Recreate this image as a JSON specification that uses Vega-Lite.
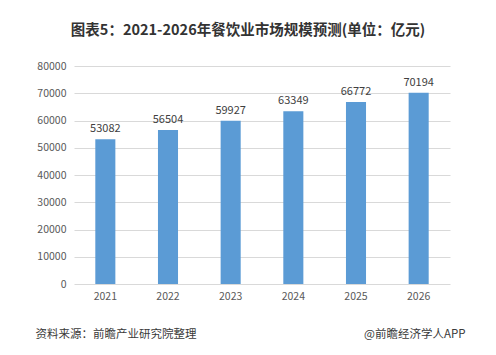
{
  "$schema": "https://vega.github.io/schema/vega-lite/v6.json",
  "width": 376,
  "height": 218,
  "autosize": {"type": "none"},
  "padding": {"left": 74, "top": 66, "right": 46, "bottom": 71},
  "background": "#ffffff",
  "title": {
    "text": "图表5：2021-2026年餐饮业市场规模预测(单位：亿元)",
    "font": "Noto Sans CJK SC",
    "fontSize": 14.5,
    "fontWeight": "bold",
    "color": "#333333",
    "anchor": "middle",
    "dx": -14,
    "offset": 23
  },
  "data": {
    "values": [
      {"year": "2021", "value": 53082},
      {"year": "2022", "value": 56504},
      {"year": "2023", "value": 59927},
      {"year": "2024", "value": 63349},
      {"year": "2025", "value": 66772},
      {"year": "2026", "value": 70194}
    ]
  },
  "encoding": {
    "x": {
      "field": "year",
      "type": "nominal",
      "scale": {"paddingInner": 0.68, "paddingOuter": 0.34},
      "axis": {
        "labelAngle": 0,
        "labelFont": "Noto Sans CJK SC",
        "labelFontSize": 10.5,
        "labelColor": "#595959",
        "labelPadding": 7,
        "ticks": false,
        "domain": false,
        "title": "资料来源：前瞻产业研究院整理",
        "titleFont": "Noto Sans CJK SC",
        "titleFontSize": 11.5,
        "titleFontWeight": "normal",
        "titleColor": "#3a3a3a",
        "titleAnchor": "start",
        "titleAlign": "left",
        "titleBaseline": "middle",
        "titleX": -39,
        "titleY": 50
      }
    },
    "y": {
      "field": "value",
      "type": "quantitative",
      "scale": {"domain": [0, 80000]},
      "axis": {
        "values": [0, 10000, 20000, 30000, 40000, 50000, 60000, 70000, 80000],
        "format": "d",
        "labelFont": "Noto Sans CJK SC",
        "labelFontSize": 10.5,
        "labelColor": "#595959",
        "labelPadding": 8,
        "ticks": false,
        "domain": false,
        "gridColor": "#d9d9d9",
        "gridWidth": 1,
        "title": "@前瞻经济学人APP",
        "titleFont": "Noto Sans CJK SC",
        "titleFontSize": 11.5,
        "titleFontWeight": "normal",
        "titleColor": "#3a3a3a",
        "titleAngle": 0,
        "titleAlign": "right",
        "titleBaseline": "middle",
        "titleX": 391,
        "titleY": 268
      }
    }
  },
  "layer": [
    {"mark": {"type": "bar", "color": "#5b9bd5"}},
    {
      "mark": {
        "type": "text",
        "baseline": "bottom",
        "dy": -5,
        "font": "Noto Sans CJK SC",
        "fontSize": 11,
        "color": "#404040"
      },
      "encoding": {"text": {"field": "value", "type": "quantitative", "format": "d"}}
    }
  ],
  "config": {"view": {"stroke": null}}
}
